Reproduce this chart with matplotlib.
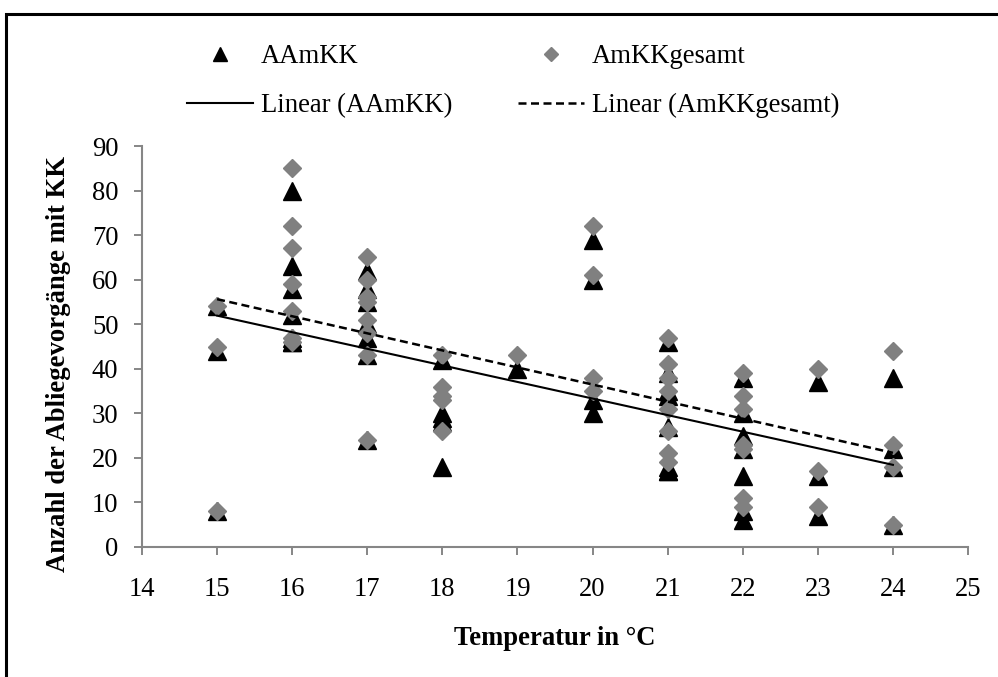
import numpy as np
import matplotlib
matplotlib.use("Agg")
import matplotlib.pyplot as plt
from matplotlib.patches import Rectangle

plt.rcParams['font.family'] = ['Liberation Serif', 'DejaVu Serif']

# Temperature (°C) and counts per observation
temp_aamkk = [15, 15, 15,
              16, 16, 16, 16, 16, 16, 16,
              17, 17, 17, 17, 17, 17, 17,
              18, 18, 18, 18, 18,
              19,
              20, 20, 20, 20,
              21, 21, 21, 21, 21, 21, 21, 21,
              22, 22, 22, 22, 22, 22, 22,
              23, 23, 23,
              24, 24, 24, 24]
aamkk = [54, 44, 8,
         80, 63, 58, 52, 47, 46, 46,
         62, 58, 55, 50, 47, 43, 24,
         42, 30, 29, 28, 18,
         40,
         69, 60, 33, 30,
         46, 39, 35, 34, 27, 18, 17, 17,
         38, 30, 25, 22, 16, 8, 6,
         37, 16, 7,
         38, 22, 18, 5]

temp_gesamt = [15, 15, 15,
               16, 16, 16, 16, 16, 16, 16,
               17, 17, 17, 17, 17, 17, 17, 17,
               18, 18, 18, 18, 18,
               19,
               20, 20, 20, 20,
               21, 21, 21, 21, 21, 21, 21, 21,
               22, 22, 22, 22, 22, 22, 22,
               23, 23, 23,
               24, 24, 24, 24]
amkk_gesamt = [54, 45, 8,
               85, 72, 67, 59, 53, 47, 46,
               65, 60, 56, 55, 51, 48, 43, 24,
               43, 36, 34, 33, 26,
               43,
               72, 61, 38, 35,
               47, 41, 38, 35, 31, 26, 21, 19,
               39, 34, 31, 23, 22, 11, 9,
               40, 17, 9,
               44, 23, 18, 5]

x_ticks = list(range(14, 26))
y_ticks = list(range(0, 91, 10))

W, H = 998, 677
fig = plt.figure(figsize=(W / 100, H / 100), dpi=100)
ax = fig.add_axes([142 / W, 1 - 547 / H, (968 - 142) / W, (547 - 146) / H])

fs = 19.2
axis_grey = '#868686'

ax.plot(temp_aamkk, aamkk, linestyle='none', marker='^', ms=12.7,
        color='black', mec='black', label='AAmKK', zorder=3)
ax.plot(temp_gesamt, amkk_gesamt, linestyle='none', marker='D', ms=9.2,
        color='#808080', mec='#808080', label='AmKKgesamt', zorder=4)

# Least-squares trend lines over the observed temperature range
xs = np.array(temp_aamkk, dtype=float)
k1, d1 = np.polyfit(xs, np.array(aamkk, dtype=float), 1)
xg = np.array(temp_gesamt, dtype=float)
k2, d2 = np.polyfit(xg, np.array(amkk_gesamt, dtype=float), 1)
xr = np.array([min(temp_aamkk), max(temp_aamkk)], dtype=float)
ax.plot(xr, k1 * xr + d1, color='black', lw=1.5, label='Linear (AAmKK)', zorder=5)
ax.plot(xr, k2 * xr + d2, color='black', lw=1.8, ls=(0, (3.2, 1.8)),
        label='Linear (AmKKgesamt)', zorder=5)

ax.set_xlim(14, 25)
ax.set_ylim(0, 90)
ax.set_xticks(x_ticks)
ax.set_yticks(y_ticks)
ax.tick_params(axis='both', which='major', direction='out', length=5.8, width=1.4,
               color=axis_grey, labelsize=fs, labelcolor='black')
ax.tick_params(axis='y', pad=11.2)
ax.tick_params(axis='x', pad=15.5)
for side in ('top', 'right'):
    ax.spines[side].set_visible(False)
for side in ('left', 'bottom'):
    ax.spines[side].set_color(axis_grey)
    ax.spines[side].set_linewidth(1.5)

ax.set_xlabel('Temperatur in °C', fontsize=fs, fontweight='bold')
ax.set_ylabel('Anzahl der Abliegevorgänge mit KK', fontsize=fs, fontweight='bold')
ax.xaxis.set_label_coords(0.5, -0.197)
ax.yaxis.set_label_coords(-0.086, 0.4576)

handles, labels = ax.get_legend_handles_labels()
order = [0, 2, 1, 3]
fig.legend([handles[i] for i in order], [labels[i] for i in order],
           loc='upper left', bbox_to_anchor=(187 / W, 1 - 44 / H),
           ncol=2, frameon=False, fontsize=fs, borderpad=0, borderaxespad=0,
           handlelength=2.47, handletextpad=0.3, columnspacing=2.47,
           labelspacing=0.9, markerscale=0.8)

# Outer chart frame
fig.patches.append(Rectangle((5.5 / W, -0.05), 1.1, 1.05 - 14 / H,
                             transform=fig.transFigure, fill=False,
                             edgecolor='black', lw=2.2, zorder=10))

fig.savefig('out.png', dpi=100)
